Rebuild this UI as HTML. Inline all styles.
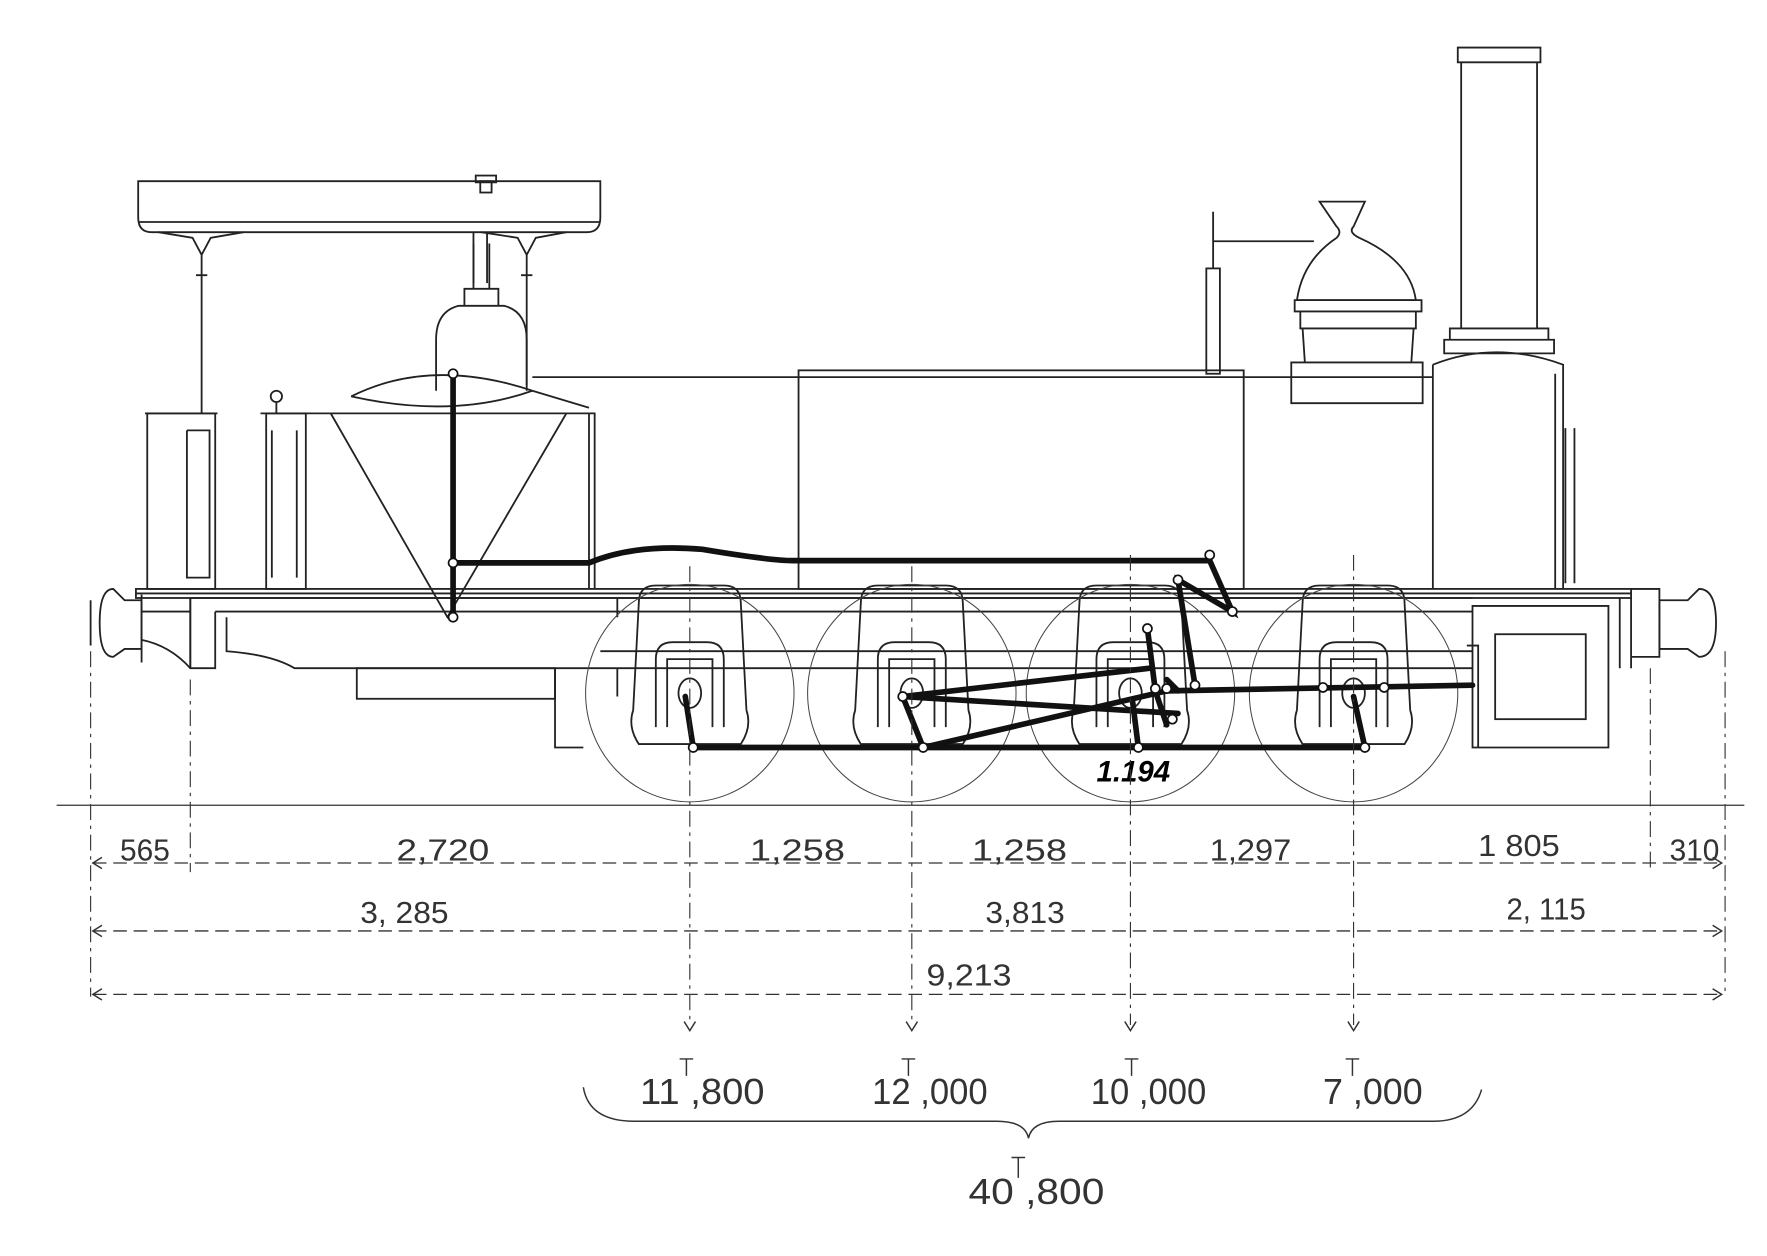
<!DOCTYPE html>
<html><head><meta charset="utf-8"><style>
html,body{margin:0;padding:0;background:#fff;}
svg{display:block;}
text{font-family:"Liberation Sans",sans-serif;fill:#333;}
</style></head><body>
<svg width="1767" height="1256" viewBox="0 0 1560 1109" preserveAspectRatio="none" xmlns="http://www.w3.org/2000/svg">
<defs>
<g id="hg">
<path d="M-45 -80 Q-45 -95 -30 -95 H30 Q45 -95 45 -80 L50 15 Q55 30 45 45 H-45 Q-55 30 -50 15 Z"/>
<path d="M-30 30 V-30 Q-30 -45 -15 -45 H15 Q30 -45 30 -30 V30"/>
<path d="M-20 30 V-30 H20 V30"/>
<ellipse cx="0" cy="0" rx="10" ry="13"/>
</g>
</defs>
<rect width="1560" height="1109" fill="#fff"/>
<g fill="none" stroke="#222" stroke-width="1.6">
<path d="M122 160 H530 V192 Q530 205 518 205 H134 Q122 205 122 192 Z"/>
<line x1="122" y1="196" x2="530" y2="196"/>
<rect x="420" y="155" width="18" height="6"/>
<rect x="424" y="160" width="10" height="10"/>
<path d="M140 205 L170 210 L178 225 L186 210 L215 205 M178 225 V365 M173 243 H183"/>
<path d="M425 205 L457 210 L465 225 L473 210 L500 205 M465 225 V340 M460 243 H470"/>
<path d="M418 205 V250 M430 205 V250"/>
<rect x="130" y="365" width="60" height="155"/>
<path d="M128 365 H192 M165 380 H185 V510 H165 V380"/>
<rect x="235" y="365" width="35" height="155"/>
<path d="M230 365 H292 M240 380 V510 M262 380 V510"/>
<circle cx="244" cy="350" r="5"/><line x1="244" y1="355" x2="244" y2="365"/>
<path d="M385 300 Q385 275 405 270 H445 Q465 275 465 300 V345 M385 300 V345"/>
<path d="M410 270 V255 H440 V270 M418 255 V215 M432 255 V215"/>
<path d="M310 350 Q380 315 470 345 L520 360"/>
<path d="M292 365 H525 V520"/>
<path d="M292 365 L395 545 L500 365"/>
<path d="M310 350 Q400 370 470 345"/>
<path d="M470 333 H1265 M520 365 V520"/>
<rect x="705" y="327" width="393" height="193"/>
<rect x="1065" y="237" width="12" height="93"/>
<path d="M1071 187 V237 M1071 213 H1160"/>
<path d="M1165 178 H1205 L1195 200 Q1190 205 1200 210 Q1245 230 1250 265 H1145 Q1150 230 1180 210 Q1185 205 1180 200 Z"/>
<path d="M1143 265 H1255 V275 H1143 Z M1148 275 H1250 V290 H1148 Z"/>
<path d="M1150 290 L1152 320 H1246 L1248 290 M1140 320 H1256 V356 H1140 Z"/>
<path d="M1287 42 H1360 V55 H1287 Z M1290 55 V290 M1357 55 V290"/>
<path d="M1280 290 H1367 V300 H1280 Z M1275 300 H1372 V312 H1275 Z"/>
<path d="M1265 322 Q1320 300 1380 322 V520 M1265 322 V520"/>
<path d="M1373 330 V520 M1382 378 V515 M1390 378 V515"/>
<rect x="120" y="520" width="1320" height="8"/>
<line x1="120" y1="524" x2="1440" y2="524"/>
<path d="M168 528 H1300 M190 540 H1300 M190 540 V590 H168 V528"/>
<path d="M200 545 V575 Q240 578 260 590 H1300"/>
<rect x="315" y="590" width="175" height="27"/>
<path d="M490 590 V660 H515 M545 590 V615"/>
<path d="M530 575 H1300 M545 528 V545"/>
<path d="M125 525 V585 M168 528 V590 M125 540 H168 M125 565 Q150 570 168 590"/>
<path d="M100 520 Q88 520 88 550 Q88 580 100 580 L110 573 H125 V530 H110 Z"/>
<path d="M80 530 V570"/>
<path d="M1430 528 V590 M1440 528 V590 M1300 535 H1420 V660 H1300 Z"/>
<rect x="1320" y="560" width="80" height="75"/>
<path d="M1295 570 H1305 V660"/>
<path d="M1440 520 H1465 V580 H1440"/>
<path d="M1500 520 Q1515 520 1515 550 Q1515 580 1500 580 L1490 573 H1465 V530 H1490 Z"/>
<use href="#hg" x="609" y="612"/>
<use href="#hg" x="805" y="612"/>
<use href="#hg" x="998" y="612"/>
<use href="#hg" x="1195" y="612"/>
</g>
<g fill="none" stroke="#444" stroke-width="0.9">
<ellipse cx="609" cy="612" rx="92" ry="96"/>
<ellipse cx="805" cy="612" rx="92" ry="96"/>
<ellipse cx="998" cy="612" rx="92" ry="96"/>
<ellipse cx="1195" cy="612" rx="92" ry="96"/>
</g>
<g fill="none" stroke="#111" stroke-width="5" stroke-linecap="round">
<path d="M400 330 V545"/>
<path d="M400 497 H520 Q560 480 620 485 Q680 495 700 495 H1068 L1088 540 L1040 512 L1055 605"/>
<path d="M612 660 H1205"/>
<path d="M612 660 L605 615 M815 660 L797 615 M1005 660 L1000 620 M1205 660 L1195 615"/>
<path d="M797 615 L1015 590 M797 615 L1040 630 M815 660 L1030 610 L1300 605"/>
<path d="M1013 555 L1020 610 L1030 640 M1030 600 L1040 610"/>
</g>
<g fill="#fff" stroke="#111" stroke-width="1.5">
<circle cx="400" cy="330" r="4"/><circle cx="400" cy="497" r="4"/><circle cx="400" cy="545" r="4"/>
<circle cx="1068" cy="490" r="4"/><circle cx="1040" cy="512" r="4"/><circle cx="1088" cy="540" r="4"/>
<circle cx="612" cy="660" r="4"/><circle cx="815" cy="660" r="4"/><circle cx="1005" cy="660" r="4"/><circle cx="1205" cy="660" r="4"/>
<circle cx="797" cy="615" r="4"/><circle cx="1013" cy="555" r="4"/><circle cx="1020" cy="608" r="4"/><circle cx="1030" cy="608" r="4"/><circle cx="1055" cy="605" r="4"/><circle cx="1168" cy="607" r="4"/><circle cx="1222" cy="607" r="4"/><circle cx="1035" cy="635" r="4"/>
</g>
<text x="968" y="690" style="font-style:italic;font-weight:bold;fill:#000" font-size="26">1.194</text>
<line x1="50" y1="711" x2="1540" y2="711" stroke="#333" stroke-width="1.2"/>
<g stroke="#333" stroke-width="1" stroke-dasharray="14 5 3 5">
<line x1="80" y1="575" x2="80" y2="880"/>
<line x1="168" y1="600" x2="168" y2="770"/>
<line x1="609" y1="500" x2="609" y2="905"/>
<line x1="805" y1="500" x2="805" y2="905"/>
<line x1="998" y1="490" x2="998" y2="905"/>
<line x1="1195" y1="490" x2="1195" y2="905"/>
<line x1="1457" y1="590" x2="1457" y2="770"/>
<line x1="1523" y1="575" x2="1523" y2="875"/>
</g>
<g stroke="#333" stroke-width="1.2" stroke-dasharray="12 6">
<line x1="82" y1="762" x2="1520" y2="762"/>
<line x1="82" y1="822" x2="1520" y2="822"/>
<line x1="82" y1="878" x2="1520" y2="878"/>
</g>
<g stroke="#333" stroke-width="1.3" fill="none">
<path d="M90 757 L82 762 L90 767 M90 817 L82 822 L90 827 M90 873 L82 878 L90 883"/>
<path d="M1512 757 L1520 762 L1512 767 M1512 817 L1520 822 L1512 827 M1512 873 L1520 878 L1512 883"/>
<path d="M604 902 L609 910 L614 902 M800 902 L805 910 L810 902 M993 902 L998 910 L1003 902 M1190 902 L1195 910 L1200 902"/>
<path d="M515 960 Q520 990 560 990 H880 Q905 990 908 1005 Q911 990 935 990 H1265 Q1300 990 1308 962"/>
</g>
<g font-size="27" style="fill:#333">
<text x="106" y="760" textLength="44" lengthAdjust="spacingAndGlyphs">565</text>
<text x="350" y="760" textLength="82" lengthAdjust="spacingAndGlyphs">2,720</text>
<text x="662" y="760" textLength="84" lengthAdjust="spacingAndGlyphs">1,258</text>
<text x="858" y="760" textLength="84" lengthAdjust="spacingAndGlyphs">1,258</text>
<text x="1068" y="760" textLength="72" lengthAdjust="spacingAndGlyphs">1,297</text>
<text x="1305" y="756" textLength="72" lengthAdjust="spacingAndGlyphs">1 805</text>
<text x="1474" y="760" textLength="44" lengthAdjust="spacingAndGlyphs">310</text>
<text x="318" y="815" textLength="78" lengthAdjust="spacingAndGlyphs">3, 285</text>
<text x="870" y="815" textLength="70" lengthAdjust="spacingAndGlyphs">3,813</text>
<text x="1330" y="812" textLength="70" lengthAdjust="spacingAndGlyphs">2, 115</text>
<text x="818" y="870" textLength="75" lengthAdjust="spacingAndGlyphs">9,213</text>
</g>
<g font-size="32" style="fill:#333">
<text x="565" y="975" textLength="110" lengthAdjust="spacingAndGlyphs">11 ,800</text>
<text x="770" y="975" textLength="102" lengthAdjust="spacingAndGlyphs">12 ,000</text>
<text x="963" y="975" textLength="102" lengthAdjust="spacingAndGlyphs">10 ,000</text>
<text x="1168" y="975" textLength="88" lengthAdjust="spacingAndGlyphs">7 ,000</text>
<text x="855" y="1063" textLength="120" lengthAdjust="spacingAndGlyphs">40 ,800</text>
</g>
<g stroke="#333" stroke-width="1.3">
<path d="M600 935 H612 M606 935 V950 M796 935 H808 M802 935 V950 M993 935 H1005 M999 935 V950 M1188 935 H1200 M1194 935 V950 M893 1022 H905 M899 1022 V1040"/>
</g>
</svg>
</body></html>
